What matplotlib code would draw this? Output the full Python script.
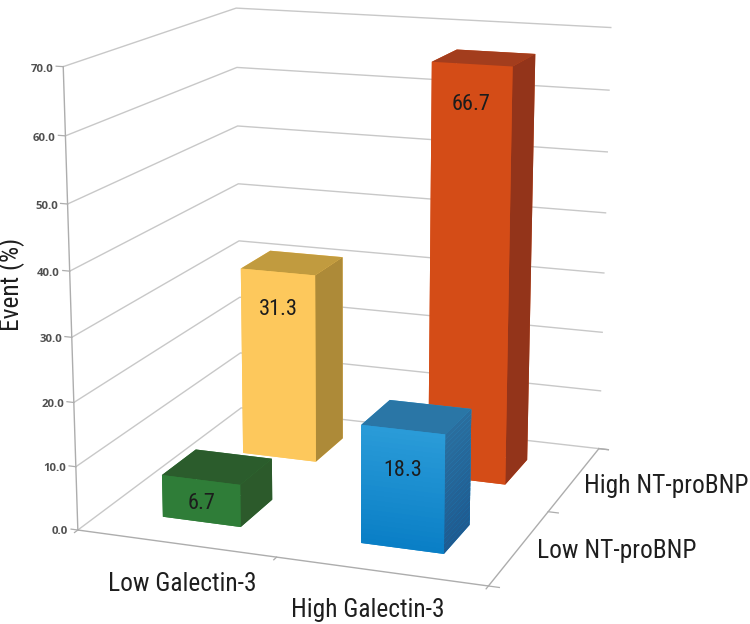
import numpy as np
import matplotlib
matplotlib.use("Agg")
import matplotlib.pyplot as plt
from matplotlib.colors import to_rgb
from mpl_toolkits.mplot3d import proj3d

W, H = 750, 624

# ---------------------------------------------------------
# Data
# ---------------------------------------------------------
galectin = ["Low Galectin-3", "High Galectin-3"]
ntprobnp = ["Low NT-proBNP", "High NT-proBNP"]
event_low_nt = [6.7, 18.3]
event_high_nt = [31.3, 66.7]
z_ticks = [0, 10, 20, 30, 40, 50, 60, 70]

# front (top, bottom), top face, side (top, bottom)
colors_low_nt = [
    ("#2f7d38", "#2f7d38", "#2b5c2c", "#2c5a2b", "#2c5a2b"),
    ("#2a9bd8", "#0a7fc6", "#2a76a6", "#2a6e9e", "#1f5b90"),
]
colors_high_nt = [
    ("#fdc85c", "#fdc85c", "#c19b3f", "#ad8a38", "#ad8a38"),
    ("#d44c17", "#d44c17", "#a33d1d", "#93341a", "#93341a"),
]

narrow = ["Roboto Condensed", "Liberation Sans"]
grid_col = "#c8c8c8"
axis_col = "#adadad"

# ---------------------------------------------------------
# Axes : camera fitted on the reference
# ---------------------------------------------------------
L = 720.5
fig = plt.figure(figsize=(W / 100, H / 100), dpi=100)
ax = fig.add_axes([-18.6 / W, -18.1 / H, L / W, L / H], projection="3d",
                  computed_zorder=False)
ax.set_xlim(0, 2, view_margin=0)
ax.set_ylim(0, 2, view_margin=0)
ax.set_zlim(0, 70, view_margin=0)
ax.view_init(elev=14.4959, azim=-69.9755)
ax.set_proj_type("persp", focal_length=0.5935)
ax.set_box_aspect((1.0113, 1, 1.1054))
ax.set_axis_off()


def label3d(x, y, z, s, **kw):
    u, v, _ = proj3d.proj_transform(x, y, z, ax.get_proj())
    ax.text2D(u, v, s, transform=ax.transData, clip_on=False, **kw)


# walls
for z in z_ticks:
    ax.plot([0, 0, 2], [0, 2, 2], [z, z, z], color=grid_col, lw=1.0, zorder=1)
    ax.plot([-0.035, 0], [0, 0], [z, z], color=axis_col, lw=0.9, zorder=1)
    label3d(-0.05, 0, z - 0.5, f"{z:.1f}", ha="right", va="center", fontsize=8.2,
            family="Open Sans", weight="bold", color="#505050")
ax.plot([0, 0], [0, 0], [0, 70], color=axis_col, lw=1.0, zorder=1)

# floor edges and ticks
ax.plot([0, 2, 2], [0, 0, 2], [0, 0, 0], color=axis_col, lw=1.0, zorder=1)
ax.plot([2, 2.05], [2, 2], [0, 0], color=axis_col, lw=1.0, zorder=1)
for t in [0, 1, 2]:
    ax.plot([t, t], [0, -0.035], [0, 0], color=axis_col, lw=0.9, zorder=1)
    ax.plot([2, 2.05], [t, t], [0, 0], color=axis_col, lw=0.9, zorder=1)


def draw_bar(i, j, value, cols, zo):
    x0, y0 = i + 0.3, j + 0.3
    front_t, front_b = np.array(to_rgb(cols[0])), np.array(to_rgb(cols[1]))
    side_t, side_b = np.array(to_rgb(cols[3])), np.array(to_rgb(cols[4]))
    # flat bars in one piece, gradient bars in slabs that overlap a little
    n = 24 if cols[0] != cols[1] else 1
    edges = np.linspace(0, value, n + 1)
    for k in range(n):
        f = k / max(n - 1, 1)
        front = tuple(front_b * (1 - f) + front_t * f)
        side = tuple(side_b * (1 - f) + side_t * f)
        top = min(edges[k + 1] + 0.6, value)
        lid = cols[2] if k == n - 1 else side
        # faces : bottom, top, front, back, left, right
        ax.bar3d(x0, y0, edges[k], 0.4, 0.4, top - edges[k],
                 color=[front, lid, front, front, front, side],
                 shade=False, edgecolor="none", linewidth=0,
                 zorder=zo + k * 0.01)
    z_lab = max(value / 2 - 0.4, value - 6.2)
    label3d(x0 + 0.2, y0, z_lab, f"{value:.1f}", ha="center", va="center",
            fontsize=16, family=narrow, color="#1c1c1c", zorder=50)


draw_bar(1, 1, event_high_nt[1], colors_high_nt[1], 2)
draw_bar(0, 1, event_high_nt[0], colors_high_nt[0], 3)
draw_bar(0, 0, event_low_nt[0], colors_low_nt[0], 4)
draw_bar(1, 0, event_low_nt[1], colors_low_nt[1], 5)

# ---------------------------------------------------------
# Labels
# ---------------------------------------------------------
lab = dict(family=narrow, fontsize=18.3, color="#1e1e1e", va="center")
fig.text(108 / W, 1 - 584 / H, galectin[0], ha="left", **lab)
fig.text(291 / W, 1 - 610 / H, galectin[1], ha="left", **lab)
fig.text(537 / W, 1 - 551 / H, ntprobnp[0], ha="left", **lab)
fig.text(584 / W, 1 - 486 / H, ntprobnp[1], ha="left", **lab)
fig.text(12 / W, 1 - 284 / H, "Event (%)", rotation=90, ha="center", **lab)

fig.savefig("out.png", dpi=100)
